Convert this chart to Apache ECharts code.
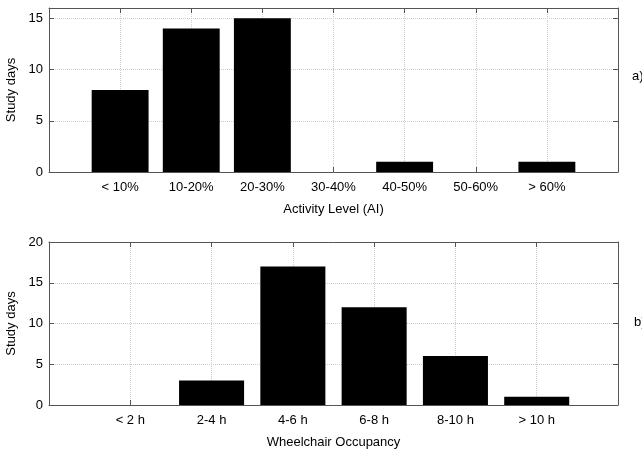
<!DOCTYPE html>
<html>
<head>
<meta charset="utf-8">
<script src="https://cdn.jsdelivr.net/npm/echarts@6/dist/echarts.min.js"></script>
<style>
  html, body { margin: 0; padding: 0; background: #fff; }
  #chart { width: 642px; height: 451px; }
</style>
</head>
<body>
<div id="chart"></div>
<script>
// panel a) activity level
const activityLevels = ["< 10%", "10-20%", "20-30%", "30-40%", "40-50%", "50-60%", "> 60%"];
const activityDays = [8, 14, 15, 0, 1, 0, 1];
// panel b) wheelchair occupancy
const occupancyHours = ["< 2 h", "2-4 h", "4-6 h", "6-8 h", "8-10 h", "> 10 h"];
const occupancyDays = [0, 3, 17, 12, 6, 1];

const chart = echarts.init(document.getElementById("chart"));

const font = "Liberation Sans, Arial, sans-serif";
const frameColor = "#555";
const textColor = "#000";

// pad categories with an empty slot each side, so bars sit on ticks 1..n
function padCats(arr) { return [""].concat(arr, [""]); }
function padVals(arr) { return ["-"].concat(arr, ["-"]); }

function xAxes(gridIndex, cats, name) {
  return [
    {
      gridIndex: gridIndex,
      type: "category",
      data: padCats(cats),
      boundaryGap: false,
      axisLine: { onZero: false, lineStyle: { color: frameColor, width: 1 } },
      axisTick: { inside: true, length: 5, interval: 0, lineStyle: { color: frameColor } },
      axisLabel: { color: textColor, fontSize: 13, fontFamily: font, margin: 9, interval: 0 },
      splitLine: { show: true, interval: 0, lineStyle: { color: "#ccc", type: "dotted" } },
      name: name,
      nameLocation: "middle",
      nameGap: 31,
      nameTextStyle: { color: textColor, fontSize: 13, fontFamily: font }
    },
    {
      gridIndex: gridIndex,
      type: "category",
      position: "top",
      data: padCats(cats),
      boundaryGap: false,
      axisLine: { onZero: false, lineStyle: { color: frameColor, width: 1 } },
      axisTick: { inside: true, length: 5, interval: 0, lineStyle: { color: frameColor } },
      axisLabel: { show: false },
      splitLine: { show: false }
    }
  ];
}

function yAxes(gridIndex, max) {
  return [
    {
      gridIndex: gridIndex,
      type: "value",
      min: 0,
      max: max,
      interval: 5,
      axisLine: { show: true, onZero: false, lineStyle: { color: frameColor, width: 1 } },
      axisTick: { show: true, inside: true, length: 5, lineStyle: { color: frameColor } },
      axisLabel: {
        color: textColor, fontSize: 13, fontFamily: font, margin: 6,
        formatter: v => (v % 5 === 0 ? String(v) : "")
      },
      splitLine: { show: true, lineStyle: { color: "#ccc", type: "dotted" } },
      name: "Study days",
      nameLocation: "middle",
      nameGap: 30,
      nameTextStyle: { color: textColor, fontSize: 13, fontFamily: font }
    },
    {
      gridIndex: gridIndex,
      type: "value",
      position: "right",
      min: 0,
      max: max,
      interval: 5,
      axisLine: { show: true, onZero: false, lineStyle: { color: frameColor, width: 1 } },
      axisTick: { show: true, inside: true, length: 5, lineStyle: { color: frameColor } },
      axisLabel: { show: false },
      splitLine: { show: false }
    }
  ];
}

const options = {
  animation: false,
  grid: [
    { left: 49, right: 24, top: 8, bottom: 279, outerBoundsMode: "none", containLabel: false },
    { left: 49, right: 24, top: 242, bottom: 46, outerBoundsMode: "none", containLabel: false }
  ],
  xAxis: xAxes(0, activityLevels, "Activity Level (AI)").concat(xAxes(1, occupancyHours, "Wheelchair Occupancy")),
  yAxis: yAxes(0, 16).concat(yAxes(1, 20)),
  series: [
    {
      type: "bar",
      xAxisIndex: 0,
      yAxisIndex: 0,
      data: padVals(activityDays),
      barWidth: "80%",
      itemStyle: { color: "#000" }
    },
    {
      type: "bar",
      xAxisIndex: 2,
      yAxisIndex: 2,
      data: padVals(occupancyDays),
      barWidth: "80%",
      itemStyle: { color: "#000" }
    }
  ],
  graphic: [
    { type: "text", left: 632, top: 70, style: { text: "a)", fontSize: 13, fontFamily: font, fill: textColor } },
    { type: "text", left: 634, top: 316, style: { text: "b)", fontSize: 13, fontFamily: font, fill: textColor } }
  ]
};

chart.setOption(options);
</script>
</body>
</html>
